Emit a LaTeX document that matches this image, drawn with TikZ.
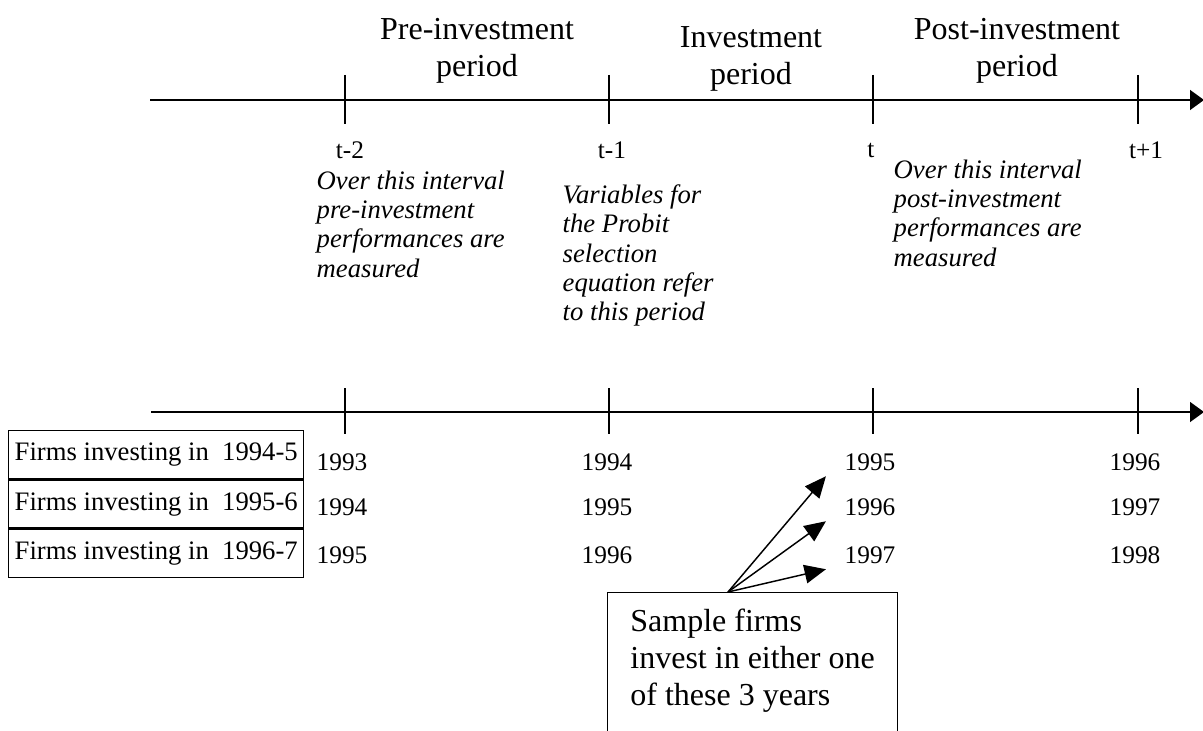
\documentclass[tikz,border=0pt]{standalone}
\usepackage{fontspec}
\setmainfont{Liberation Serif}
\usetikzlibrary{positioning,arrows.meta,calc}

\begin{document}
\begin{tikzpicture}[x=0.75pt,y=-0.75pt,line width=1.1pt,
    axisarrow/.style={-{Triangle[length=10.5pt,width=15pt]}},
    pickarrow/.style={-{Triangle[length=16pt,width=14pt]}},
    period/.style={font=\fontsize{24}{28}\selectfont,align=center},
    lbl/.style={font=\fontsize{19}{23}\selectfont,inner sep=0pt},
    note/.style={font=\fontsize{20}{22}\selectfont\itshape,align=left,
      anchor=north west,inner sep=0pt},
    firmbox/.style={draw,font=\fontsize{20}{24}\selectfont,
      minimum width=221.25pt,minimum height=36pt,inner sep=0pt},
    samplebox/.style={draw,font=\fontsize{24}{28}\selectfont,align=left,
      anchor=north west,minimum width=216pt,inner xsep=17pt,inner ysep=12pt}]
  \clip (0,0) rectangle (1203,731);

  % 期間の名前
  \node[period] (pre) at (477,51) {Pre-investment\\period};
  \node[period] (inv) at (751,59) {Investment\\period};
  \node[period] (post) at (1017,51) {Post-investment\\period};

  % 時間軸（上）
  \coordinate (a0) at (150,100);
  \coordinate (a1) at (1204,100);
  \draw[axisarrow] (a0) -- (a1);
  \foreach \x in {345,609,873,1138}
    \draw (\x,75) -- (\x,124);
  \foreach \x/\t/\n in {350/t-2/m2,612/t-1/m1,871/t/z,1146/t+1/p1}
    \node[lbl] (t\n) at (\x,150) {\t};

  % 各区間の説明
  \node[note] (n1) at (316,170)
    {Over this interval\\pre-investment\\performances are\\measured};
  \node[note] (n2) at (562,184)
    {Variables for\\the Probit\\selection\\equation refer\\to this period};
  \node[note] (n3) at (893,159)
    {Over this interval\\post-investment\\performances are\\measured};

  % 時間軸（下）
  \coordinate (b0) at (151,412);
  \coordinate (b1) at (1204,412);
  \draw[axisarrow] (b0) -- (b1);
  \foreach \x in {345,609,873,1138}
    \draw (\x,388) -- (\x,434);

  % 投資年ごとの企業
  \node[firmbox,anchor=north west] (f1) at (8,430) {Firms investing in~ 1994-5};
  \node[firmbox,below=0pt of f1] (f2) {Firms investing in~ 1995-6};
  \node[firmbox,below=0pt of f2] (f3) {Firms investing in~ 1996-7};

  % 年の表
  \foreach \c/\x in {1/342,2/607,3/870,4/1135} {
    \foreach \r/\y in {1/462,2/507,3/555} {
      \pgfmathtruncatemacro{\yr}{1991+\r+\c}
      \node[lbl] (y\r\c) at (\x,\y) {\yr};
    }
  }

  % 標本企業
  \node[samplebox] (sample) at (607,592)
    {Sample firms\\invest in either one\\of these 3 years\\ \mbox{}\\ \mbox{}};
  \coordinate (root) at ($(sample.north west)+(121,0)$);
  \foreach \r in {1,2,3}
    \draw[pickarrow] (root) -- ($(y\r3.south west)+(-18,5)$);
\end{tikzpicture}
\end{document}
